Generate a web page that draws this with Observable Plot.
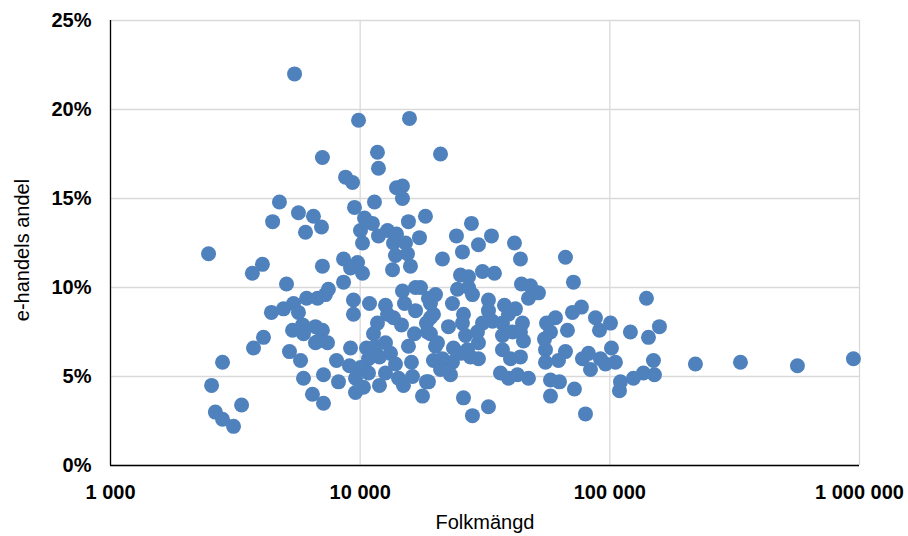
<!DOCTYPE html>
<html><head><meta charset="utf-8">
<script src="https://cdn.jsdelivr.net/npm/d3@7"></script>
<script src="https://cdn.jsdelivr.net/npm/@observablehq/plot@0.6"></script>
<style>
body{margin:0;background:#fff;}
#chart svg{font-family: Arial, "Liberation Sans", sans-serif;}
</style></head><body><div id="chart"></div>
<script>
const population = [5460,2470,4750,4460,5660,6500,7000,6040,4060,3700,7060,5070,6100,6750,4410,4930,5410,5660,5880,5360,5930,6620,6620,4100,3740,5210,5770,2810,5930,2540,6440,3350,2630,2810,3110,7060,7130,7130,7060,7400,7260,7460,
9850,15760,11730,11840,8740,9320,13980,14770,14770,11410,9490,10410,11200,10030,11840,12870,13980,15610,18260,17280,10220,13600,15190,13850,15470,8580,9760,10220,13480,15900,9150,8580,9400,9400,10900,12630,12870,11730,14770,16660,15050,16660,18770,14640,16500,18430,19660,19120,11310,12630,9150,10600,11520,13230,10800,11950,13850,8040,9060,8190,9580,10800,11950,9580,10310,10030,12630,14240,16050,16200,14910,18430,17770,15610,13600,20030,19660,6810,
20980,27910,24300,33570,29770,25690,41500,43850,21360,30900,34510,25220,27160,44260,48100,51780,47220,24530,27160,28170,23420,20030,19120,17440,32650,32650,37840,41880,39260,37150,33880,30900,44670,43850,45090,40740,37150,25930,25690,22580,19120,18600,20400,26420,29500,29770,23640,26900,29770,27660,25220,23420,21360,20980,23000,37150,40000,43850,36470,39260,42660,47220,55760,54740,55250,55250,57850,18770,57850,25930,32650,28170,76960,70850,66420,71500,140200,
60570,87590,100600,90880,67660,57850,120900,142800,158000,101500,66420,82120,77670,62270,91730,105300,96050,83650,149500,136300,124300,150900,110300,109300,62850,72160,79880,
220200,333600,564100,945500];
const share = [22.0,11.9,14.8,13.7,14.2,14.0,13.4,13.1,11.3,10.8,17.3,10.2,9.4,9.4,8.6,8.8,9.1,8.6,7.9,7.6,7.4,7.8,6.9,7.2,6.6,6.4,5.9,5.8,4.9,4.5,4.0,3.4,3.0,2.6,2.2,11.2,5.1,3.5,7.6,6.9,9.6,9.9,
19.4,19.5,17.6,16.7,16.2,15.9,15.6,15.7,15.0,14.8,14.5,13.9,13.6,13.2,12.9,13.2,13.0,13.7,14.0,12.8,12.5,12.5,12.5,11.8,11.9,11.6,11.4,10.8,11.0,11.2,11.1,10.3,9.3,8.5,9.1,9.0,8.5,8.0,9.8,10.0,9.1,8.7,9.4,7.9,7.4,8.0,8.5,7.4,7.4,6.9,6.6,6.6,6.7,6.3,6.0,6.1,5.7,5.9,5.6,4.7,4.9,5.2,4.5,4.1,4.4,5.5,5.2,4.9,5.8,5.0,4.5,4.7,3.9,6.7,8.3,6.7,5.9,7.0,
17.5,13.6,12.9,12.9,12.4,12.0,12.5,11.6,11.6,10.9,10.8,10.7,10.6,10.2,10.1,9.7,9.4,9.9,10.0,9.6,9.1,9.6,9.1,10.0,9.3,8.7,9.0,8.8,8.5,8.0,8.1,8.0,8.0,7.5,7.0,7.5,7.3,8.5,8.0,7.8,8.3,7.5,6.9,7.3,7.5,6.9,6.6,6.5,6.0,6.1,6.3,5.8,6.0,5.4,5.1,6.5,6.0,6.1,5.2,4.9,5.1,4.9,8.0,7.1,6.5,5.8,4.8,4.7,3.9,3.8,3.3,2.8,8.9,8.6,11.7,10.3,9.4,
8.3,8.3,8.0,7.6,7.6,7.5,7.5,7.2,7.8,6.6,6.4,6.3,6.0,5.9,6.0,5.8,5.7,5.4,5.9,5.2,4.9,5.1,4.7,4.2,4.7,4.3,2.9,
5.7,5.8,5.6,6.0];
const xTicks = [1000, 10000, 100000, 1000000];
const yTicks = [0, 5, 10, 15, 20, 25];
const xTitle = "Folkmängd";
const yTitle = "e-handels andel";

const data = population.map((p, i) => ({population: p, share: share[i]}));
const fmt = d => d3.format(",")(d).replace(/,/g, " ");

const chart = Plot.plot({
  width: 908, height: 536,
  marginLeft: 110, marginRight: 49, marginTop: 20, marginBottom: 71,
  style: {fontFamily: 'Arial, "Liberation Sans", sans-serif', fontSize: "20px", color: "#000", background: "#fff", overflow: "visible"},
  x: {type: "log", domain: [1000, 1000000]},
  y: {domain: [0, 25]},
  marks: [
    Plot.ruleX(xTicks, {stroke: "#d9d9d9", strokeWidth: 1.3}),
    Plot.ruleY(yTicks, {stroke: "#d9d9d9", strokeWidth: 1.3}),
    Plot.ruleX([1000], {stroke: "#000", strokeWidth: 1.3}),
    Plot.ruleY([0], {stroke: "#000", strokeWidth: 1.3}),
    Plot.dot(data, {x: "population", y: "share", r: 7.5, fill: "#4f81bd", stroke: "none"}),
    Plot.axisX({ticks: xTicks, tickSize: 0, tickPadding: 19, tickFormat: fmt, label: null, fontWeight: "bold", fontSize: 20}),
    Plot.axisY({ticks: yTicks, tickSize: 0, tickPadding: 19, tickFormat: d => d + "%", label: null, fontWeight: "bold", fontSize: 20}),
    Plot.text([xTitle], {frameAnchor: "bottom", textAnchor: "middle", lineAnchor: "middle", dy: 57, fontSize: 20, fill: "#000"}),
    Plot.text([yTitle], {frameAnchor: "left", textAnchor: "middle", lineAnchor: "middle", dx: -88, dy: 7, rotate: -90, fontSize: 20, fill: "#000"})
  ]
});
document.getElementById("chart").appendChild(chart);
</script></body></html>
